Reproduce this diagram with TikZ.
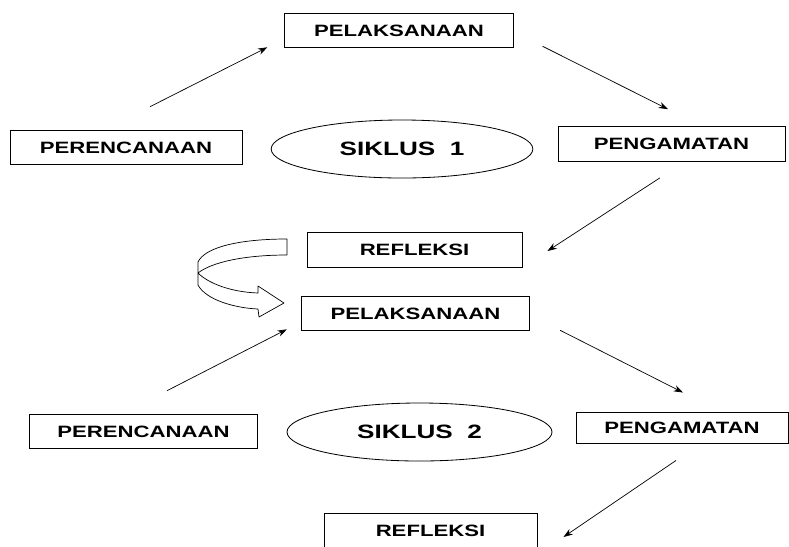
\documentclass[tikz,border=0pt]{standalone}
\usepackage{fontspec}
\newfontfamily\boxfont[FakeStretch=1.35]{Liberation Sans}
\usetikzlibrary{positioning,arrows.meta,shapes.geometric}

\begin{document}
\begin{tikzpicture}[
  x=0.03cm, y=-0.03cm, >={Stealth[length=8pt,width=5.5pt]},
  font=\boxfont\bfseries\fontsize{14}{16}\selectfont,
  box/.style={draw, line width=0.8pt, minimum width=#1, minimum height=1.04cm, inner sep=0pt},
  box/.default=6.85cm,
  cycle/.style={draw, ellipse, line width=0.7pt, minimum width=7.85cm, minimum height=1.74cm,
    inner sep=0pt, font=\boxfont\bfseries\fontsize{16.5}{18}\selectfont},
  flow/.style={->, line width=0.6pt},
  turn/.style={draw, fill=white, line width=0.6pt, line join=round}]
  \useasboundingbox (0,0) rectangle (789,546);
  \clip (0,0) rectangle (789,546);

  % siklus 1
  \node[box] (pel1) at (399,30.5) {PELAKSANAAN};
  \node[box=6.96cm] (per1) at (126,147.5) {PERENCANAAN};
  \node[cycle] (sik1) at (402,149) {SIKLUS\ \ 1};
  \node[box=6.81cm] (pen1) at (671.5,144) {PENGAMATAN};
  \node[box=6.45cm] (ref1) at (414.5,250) {REFLEKSI};

  % siklus 2
  \node[box] (pel2) at (415.5,313.5) {PELAKSANAAN};
  \node[box] (per2) at (143.5,431.5) {PERENCANAAN};
  \node[cycle, minimum width=7.95cm] (sik2) at (419.5,432) {SIKLUS\ \ 2};
  \node[box=6.36cm, minimum height=0.93cm] (pen2) at (682,427.5) {PENGAMATAN};
  \node[box=6.39cm] (ref2) at (430.5,531) {REFLEKSI};

  \draw[flow] ([shift={(24,-23)}]per1.north) -- ([shift={(-17,-1)}]pel1.south west);
  \draw[flow] ([shift={(29,-2)}]pel1.south east) -- ([shift={(-3.5,-17)}]pen1.north);
  \draw[flow] ([shift={(-11.5,16)}]pen1.south) -- ([shift={(25,1)}]ref1.east);
  \draw[flow] ([shift={(23.5,-23)}]per2.north) -- ([shift={(-14,-2)}]pel2.south west);
  \draw[flow] ([shift={(30,-1)}]pel2.south east) -- ([shift={(1,-19)}]pen2.north);
  \draw[flow] ([shift={(-6,17)}]pen2.south) -- ([shift={(26,6)}]ref2.east);

  % turn arrow from refleksi to the next cycle
  \draw[turn] (287,239) .. controls (240,239) and (205,247) .. (198,262) -- (198,285)
    .. controls (206,300) and (235,308) .. (258,309) -- (259,317) -- (284,303) -- (258,286)
    -- (258,293) .. controls (230,292) and (208,283) .. (198,273)
    .. controls (212,262) and (245,255) .. (287,255) -- cycle;
\end{tikzpicture}
\end{document}
